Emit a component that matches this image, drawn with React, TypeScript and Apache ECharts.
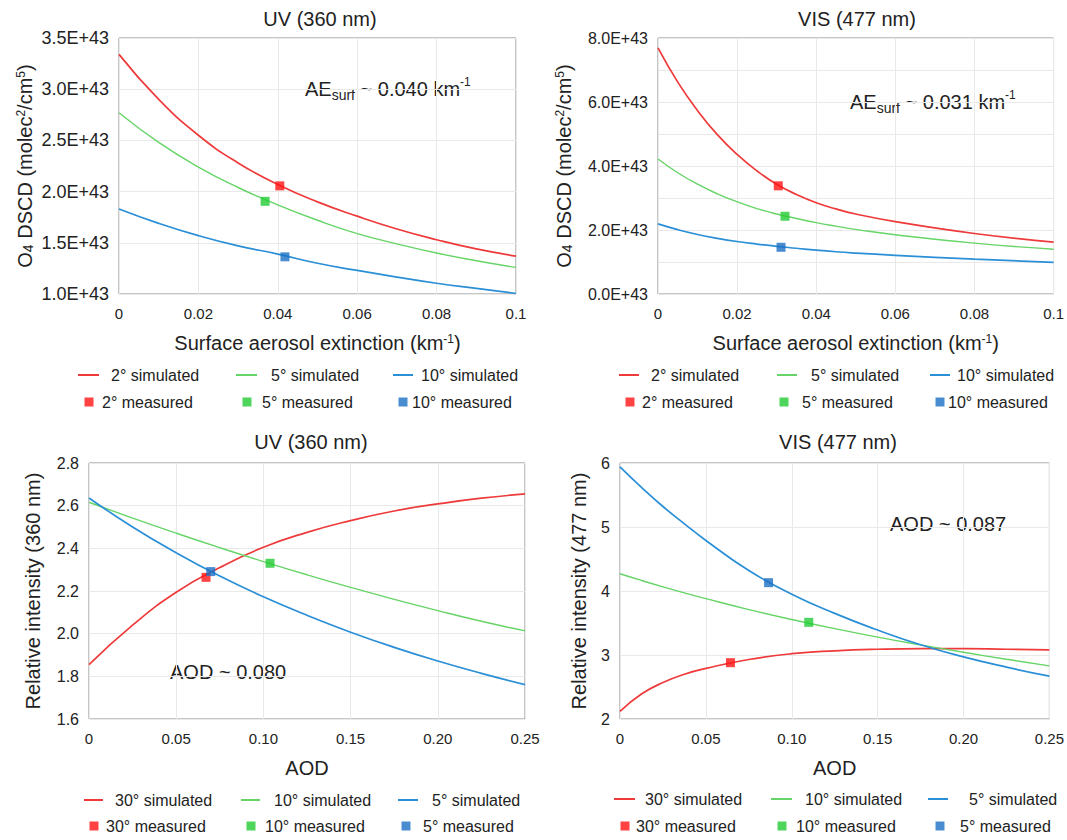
import React, { useEffect, useRef } from "react";
import * as echarts from "echarts";

// ---------- DATA ----------
// Top-left: UV (360 nm) O4 DSCD vs surface aerosol extinction (values in 1E43 molec2/cm5)
const tlX = [0, 0.01, 0.02, 0.03, 0.04, 0.05, 0.06, 0.07, 0.08, 0.09, 0.1];
const tl2 = [3.34, 2.9, 2.55, 2.28, 2.07, 1.9, 1.76, 1.635, 1.53, 1.44, 1.37];
const tl5 = [2.77, 2.48, 2.24, 2.04, 1.87, 1.72, 1.59, 1.49, 1.4, 1.325, 1.26];
const tl10 = [1.83, 1.69, 1.57, 1.47, 1.39, 1.3, 1.23, 1.165, 1.105, 1.055, 1.005];
const tlMeas2 = [0.0405, 2.056];
const tlMeas5 = [0.0368, 1.905];
const tlMeas10 = [0.0418, 1.363];

// Top-right: VIS (477 nm)
const trX = [0, 0.005, 0.01, 0.015, 0.02, 0.025, 0.03, 0.035, 0.04, 0.045, 0.05, 0.06, 0.08, 0.1];
const tr2 = [7.69, 6.62, 5.73, 4.98, 4.36, 3.85, 3.43, 3.11, 2.85, 2.66, 2.5, 2.26, 1.89, 1.62];
const tr5 = [4.22, 3.79, 3.43, 3.13, 2.88, 2.67, 2.5, 2.36, 2.23, 2.12, 2.02, 1.85, 1.59, 1.4];
const tr10 = [2.19, 2.01, 1.86, 1.74, 1.64, 1.56, 1.49, 1.43, 1.37, 1.32, 1.28, 1.21, 1.09, 0.99];
const trMeas2 = [0.0304, 3.38];
const trMeas5 = [0.0321, 2.43];
const trMeas10 = [0.0311, 1.46];

// Bottom-left: UV (360 nm) relative intensity vs AOD
const blX = [0, 0.025, 0.05, 0.075, 0.1, 0.125, 0.15, 0.175, 0.2, 0.225, 0.25];
const bl30 = [1.855, 2.04, 2.194, 2.31, 2.405, 2.475, 2.53, 2.575, 2.608, 2.635, 2.655];
const bl10 = [2.616, 2.542, 2.471, 2.403, 2.338, 2.276, 2.217, 2.161, 2.108, 2.058, 2.013];
const bl5 = [2.636, 2.5, 2.379, 2.27, 2.173, 2.086, 2.007, 1.936, 1.872, 1.814, 1.761];
const blMeas30 = [0.0671, 2.264];
const blMeas10 = [0.1038, 2.33];
const blMeas5 = [0.0698, 2.291];

// Bottom-right: VIS (477 nm)
const brX = [0, 0.0125, 0.025, 0.0375, 0.05, 0.075, 0.1, 0.125, 0.15, 0.175, 0.2, 0.225, 0.25];
const br30 = [2.12, 2.39, 2.57, 2.7, 2.79, 2.93, 3.02, 3.065, 3.09, 3.1, 3.1, 3.09, 3.08];
const br10 = [4.27, 4.165, 4.065, 3.97, 3.88, 3.71, 3.555, 3.412, 3.28, 3.158, 3.043, 2.933, 2.83];
const br5 = [5.94, 5.62, 5.32, 5.05, 4.79, 4.32, 3.95, 3.65, 3.39, 3.16, 2.97, 2.81, 2.67];
const brMeas30 = [0.0643, 2.88];
const brMeas10 = [0.1099, 3.51];
const brMeas5 = [0.0865, 4.13];

const topNames = ["2°", "5°", "10°"];
const bottomNames = ["30°", "10°", "5°"];

// ---------- STYLE ----------
const FONT = "'Liberation Sans', Arial, Helvetica, sans-serif";
const TXT = "#222";
const LINE_COLORS = ["#ee3a3a", "#66d466", "#2a8fd6"];
const MARK_COLORS = ["#ff1414", "#22cc33", "#1b70c4"];
const GRIDLINE = "#e9e9e9";

const grids = [
  { left: 119, top: 38, width: 397, height: 256 },
  { left: 658, top: 38, width: 397, height: 256 },
  { left: 89, top: 463, width: 436, height: 256 },
  { left: 620, top: 463, width: 436, height: 256 },
];

const richStyles = (size: number) => ({
  b: { fontSize: size, fontFamily: FONT, color: TXT, lineHeight: size + 6 },
  sub: { fontSize: Math.round(size * 0.68), fontFamily: FONT, color: TXT, verticalAlign: "bottom", lineHeight: Math.round(size * 0.68) },
  sup: { fontSize: Math.round(size * 0.62), fontFamily: FONT, color: TXT, verticalAlign: "top", lineHeight: Math.round(size * 0.62) },
});

function pairs(xs: number[], ys: number[]) {
  return xs.map((x, i) => [x, ys[i]]);
}

function lineS(name: string, idx: number, xs: number[], ys: number[], c: number) {
  return {
    type: "line",
    name,
    xAxisIndex: idx,
    yAxisIndex: idx,
    data: pairs(xs, ys),
    showSymbol: false,
    symbol: "none",
    smooth: 0.5,
    color: LINE_COLORS[c],
    itemStyle: { color: LINE_COLORS[c] },
    lineStyle: { color: LINE_COLORS[c], width: c === 1 ? 1.4 : 1.7 },
    z: 2,
    silent: true,
  };
}

function markS(name: string, idx: number, pt: number[], c: number) {
  return {
    type: "scatter",
    name,
    xAxisIndex: idx,
    yAxisIndex: idx,
    data: [pt],
    symbol: "rect",
    symbolSize: 9,
    color: MARK_COLORS[c],
    itemStyle: { color: MARK_COLORS[c] },
    z: 3,
    silent: true,
  };
}

type Col = { line: [number, number]; sq: number; text: number };
const legendCols: Col[][] = [
  [
    { line: [78, 99], sq: 89, text: 111 },
    { line: [236, 257], sq: 247, text: 271 },
    { line: [393, 413], sq: 403, text: 421 },
  ],
  [
    { line: [619, 639], sq: 630, text: 651 },
    { line: [777, 797], sq: 784, text: 811 },
    { line: [930, 950], sq: 940, text: 957 },
  ],
  [
    { line: [84, 103], sq: 94, text: 115 },
    { line: [241, 260], sq: 251, text: 274 },
    { line: [398, 418], sq: 406, text: 432 },
  ],
  [
    { line: [614, 635], sq: 625, text: 645 },
    { line: [771, 792], sq: 782, text: 805 },
    { line: [928, 948], sq: 940, text: 969 },
  ],
];
const legendRows = [
  [376, 403],
  [376, 403],
  [801, 827],
  [800, 827],
];

function buildLegends() {
  const out: any[] = [];
  for (let p = 0; p < 4; p++) {
    const prefix = p < 2 ? "T:" : "B:";
    const labels = p < 2 ? topNames : bottomNames;
    legendCols[p].forEach((col, i) => {
      const [r1, r2] = legendRows[p];
      const lw = col.line[1] - col.line[0];
      out.push({
        show: true,
        left: col.line[0],
        top: r1 - 9,
        padding: 0,
        itemWidth: lw,
        itemHeight: 2,
        icon: "rect",
        selectedMode: false,
        data: [prefix + labels[i] + " simulated"],
        formatter: (n: string) => n.slice(2),
        textStyle: { fontSize: 16, fontFamily: FONT, color: TXT, padding: [0, 0, 0, col.text - col.line[0] - lw - 5] },
      });
      out.push({
        show: true,
        left: col.sq - 4.5,
        top: r2 - 9,
        padding: 0,
        itemWidth: 9,
        itemHeight: 9,
        icon: "rect",
        selectedMode: false,
        data: [prefix + labels[i] + " measured"],
        formatter: (n: string) => n.slice(2),
        textStyle: { fontSize: 16, fontFamily: FONT, color: TXT, padding: [0, 0, 0, col.text - col.sq - 4.5 - 9 - 5] },
      });
    });
  }
  return out;
}

function xAxis(idx: number, max: number, interval: number, name: string, fmt?: (v: number) => string) {
  return {
    type: "value",
    gridIndex: idx,
    min: 0,
    max,
    interval,
    name,
    nameLocation: "middle",
    nameGap: 39,
    nameTextStyle: { fontSize: 20, fontFamily: FONT, color: TXT, rich: richStyles(20) },
    axisLine: { show: false },
    axisTick: { show: false },
    axisLabel: { fontSize: 15, fontFamily: FONT, color: TXT, margin: 12, formatter: fmt },
    splitLine: { show: true, lineStyle: { color: GRIDLINE, width: 1 } },
  };
}

function yAxis(idx: number, min: number, max: number, interval: number, name: string, gap: number, labelSize: number, fmt: (v: number) => string) {
  return {
    type: "value",
    gridIndex: idx,
    min,
    max,
    interval,
    name,
    nameLocation: "middle",
    nameGap: gap,
    nameRotate: 90,
    nameTextStyle: { fontSize: 20, fontFamily: FONT, color: TXT, rich: richStyles(20) },
    axisLine: { show: false },
    axisTick: { show: false },
    axisLabel: { fontSize: labelSize, fontFamily: FONT, color: TXT, margin: 10, formatter: fmt },
    splitLine: { show: true, lineStyle: { color: GRIDLINE, width: 1 } },
  };
}

function titleAt(text: string, cx: number, top: number) {
  return {
    text,
    left: cx,
    top,
    textAlign: "center",
    padding: 0,
    textStyle: { fontSize: 20, fontWeight: "normal", fontFamily: FONT, color: TXT },
  };
}

function annot(text: string, x: number, y: number) {
  return {
    type: "text",
    left: x,
    top: y,
    silent: true,
    style: {
      text,
      rich: richStyles(20),
      fontSize: 20,
      fontFamily: FONT,
      fill: TXT,
    },
  };
}

const dscdName = "O{sub|4} DSCD (molec{sup|2}/cm{sup|5})";
const extName = "Surface aerosol extinction (km{sup|-1})";

export default function App() {
  const ref = useRef<HTMLDivElement>(null);
  useEffect(() => {
    if (!ref.current) return;
    const chart = echarts.init(ref.current, undefined, { renderer: "svg" });
    const series: any[] = [];
    const topSets = [
      [tl2, tl5, tl10, tlMeas2, tlMeas5, tlMeas10, tlX],
      [tr2, tr5, tr10, trMeas2, trMeas5, trMeas10, trX],
    ];
    topSets.forEach((s, p) => {
      for (let i = 0; i < 3; i++) series.push(lineS("T:" + topNames[i] + " simulated", p, s[6] as number[], s[i] as number[], i));
      for (let i = 0; i < 3; i++) series.push(markS("T:" + topNames[i] + " measured", p, s[3 + i] as number[], i));
    });
    const botSets = [
      [bl30, bl10, bl5, blMeas30, blMeas10, blMeas5, blX],
      [br30, br10, br5, brMeas30, brMeas10, brMeas5, brX],
    ];
    botSets.forEach((s, p) => {
      for (let i = 0; i < 3; i++) series.push(lineS("B:" + bottomNames[i] + " simulated", p + 2, s[6] as number[], s[i] as number[], i));
      for (let i = 0; i < 3; i++) series.push(markS("B:" + bottomNames[i] + " measured", p + 2, s[3 + i] as number[], i));
    });

    const aodFmt = (v: number) => (v === 0 ? "0" : v.toFixed(2));
    const option: any = {
      animation: false,
      backgroundColor: "#ffffff",
      textStyle: { fontFamily: FONT },
      title: [
        titleAt("UV (360 nm)", 320, 9),
        titleAt("VIS (477 nm)", 857, 9),
        titleAt("UV (360 nm)", 311, 432),
        titleAt("VIS (477 nm)", 838, 432),
      ],
      grid: grids.map((g) => ({ ...g, show: true, borderColor: "#8c8c8c", borderWidth: 1, backgroundColor: "transparent", containLabel: false })),
      xAxis: [
        xAxis(0, 0.1, 0.02, extName),
        xAxis(1, 0.1, 0.02, extName),
        xAxis(2, 0.25, 0.05, "AOD", aodFmt),
        xAxis(3, 0.25, 0.05, "AOD", aodFmt),
      ],
      yAxis: [
        yAxis(0, 1, 3.5, 0.5, dscdName, 84, 18, (v) => v.toFixed(1) + "E+43"),
        yAxis(1, 0, 8, 1, dscdName, 84, 16, (v) => (Math.round(v) % 2 === 0 ? v.toFixed(1) + "E+43" : "")),
        yAxis(2, 1.6, 2.8, 0.2, "Relative intensity (360 nm)", 46, 16, (v) => v.toFixed(1)),
        yAxis(3, 2, 6, 1, "Relative intensity (477 nm)", 31, 16, (v) => String(Math.round(v))),
      ],
      legend: buildLegends(),
      series,
      graphic: [
        annot("{b|AE}{sub|surf}{b| ~ 0.040 km}{sup|-1}", 305, 76),
        annot("{b|AE}{sub|surf}{b| ~ 0.031 km}{sup|-1}", 850, 89),
        annot("{b|AOD ~ 0.080}", 170, 662),
        annot("{b|AOD ~ 0.087}", 890, 514),
      ],
    };
    chart.setOption(option);
    return () => chart.dispose();
  }, []);
  return (
    <div
      ref={ref}
      style={{ position: "absolute", left: 0, top: 0, width: 1067, height: 840, background: "#fff" }}
    />
  );
}
